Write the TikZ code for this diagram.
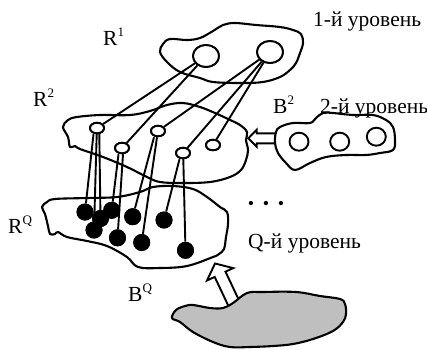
\documentclass[tikz,border=0pt]{standalone}
\usepackage{fontspec}
\setmainfont{Liberation Serif}
\usetikzlibrary{shapes.geometric}
\definecolor{landgray}{gray}{0.75}
\newcommand\lvlsup[1]{\raisebox{9pt}{\fontsize{13}{13}\selectfont #1}}
\begin{document}
\begin{tikzpicture}[x=1pt,y=-1pt,
  blob/.style={line width=2.1pt, line join=round},
  link/.style={line width=1.9pt},
  ring/.style={ellipse, draw, line width=1.9pt, fill=white, inner sep=0pt},
  bigring/.style={ring, minimum width=26pt, minimum height=22pt},
  smallring/.style={ring, minimum width=14pt, minimum height=10.5pt},
  midring/.style={ring, minimum width=19pt, minimum height=18pt},
  dot/.style={circle, fill=black, inner sep=0pt, minimum size=17pt},
  lbl/.style={font=\fontsize{21.5}{25}\selectfont, inner sep=0pt, anchor=base west},
  hollow/.style={draw, line width=1.9pt, fill=white, line join=miter}]
\useasboundingbox (0,0) rectangle (427,349);

% level 1 region
\draw[blob] plot[smooth cycle, tension=0.6] coordinates {
  (160,52) (163,44) (170,39) (187,40) (200,38) (213,31) (223,25) (235,23)
  (256,25) (280,27) (293,30) (301,34) (303,43) (300,53) (296,63) (290,70)
  (280,77) (263,82) (240,83) (213,82) (200,78) (180,72) (167,62)};

% level 2 region
\draw[blob] plot[smooth cycle, tension=0.6] coordinates {
  (63,127) (68,120) (77,117) (100,115) (130,115) (150,111) (167,105) (183,103)
  (200,107) (215,113) (228,119) (240,125) (247,132) (246,140) (248,150)
  (246,160) (241,170) (230,177) (210,182) (183,183) (160,182) (147,177)
  (127,167) (103,157) (80,149) (75,146) (70,147) (68,137)};

% level Q region
\draw[blob] plot[smooth cycle, tension=0.6] coordinates {
  (42,207) (47,202) (55,199) (87,198) (117,197) (140,192) (153,187) (173,186)
  (193,189) (207,197) (220,207) (227,212) (228,224) (226,237) (224,249)
  (219,254) (213,257) (187,266) (160,268) (138,267) (127,257) (107,246)
  (87,241) (67,237) (58,232) (55,234) (50,234) (48,226) (45,214)};

% units of level 1
\node[bigring] (a1) at (206,56) {};
\node[bigring] (a2) at (270,52) {};

% units of level 2
\node[smallring] (c1) at (97,128) {};
\node[smallring] (c2) at (122,148) {};
\node[smallring] (c3) at (158,131) {};
\node[smallring] (c4) at (183,153) {};
\node[smallring] (c5) at (213,145) {};

% units of level Q
\node[dot] (d1) at (85,212) {};
\node[dot] (d2) at (100.5,218.5) {};
\node[dot] (d3) at (111.7,210.3) {};
\node[dot] (d4) at (94,230) {};
\node[dot] (d5) at (132.7,216.7) {};
\node[dot] (d6) at (117.5,237.8) {};
\node[dot] (d7) at (164,220) {};
\node[dot] (d8) at (141.7,242.5) {};
\node[dot] (d9) at (185.5,250.3) {};

% links between levels
\draw[link] (a1) -- (c1);
\draw[link] (a1) -- (c2);
\draw[link] (a2) -- (c3);
\draw[link] (a2) -- (c4);
\draw[link] (a2) -- (c5);
\draw[link] ([xshift=-3.5pt]c1.south) -- (d1);
\draw[link] ([xshift=-0.3pt]c1.south) -- (d4);
\draw[link] ([xshift=2.3pt]c1.south) -- (d2);
\draw[link] ([xshift=-3.5pt]c2.south) -- (d3);
\draw[link] ([xshift=1pt]c2.south) -- (d6);
\draw[link] ([xshift=-4pt]c3.south) -- (d5);
\draw[link] ([xshift=-1pt]c3.south) -- (d8);
\draw[link] ([xshift=-3.5pt]c4.south) -- (d7);
\draw[link] ([xshift=0.3pt]c4.south) -- (d9);

% redraw the units above the links
\node[bigring] at (a1) {};
\node[bigring] at (a2) {};
\foreach \c in {c1,c2,c3,c4,c5} \node[smallring] at (\c) {};
\foreach \d in {d1,d2,d3,d4,d5,d6,d7,d8,d9} \node[dot] at (\d) {};

% input arrow into level 2
\draw[hollow] (248.3,138.3) -- (256.7,129.8) -- (256.7,133.3) -- (280,133.3)
  -- (280,143.3) -- (256.7,143.3) -- (256.7,146.8) -- cycle;

% B2 region
\draw[blob, fill=white] plot[smooth cycle, tension=0.6] coordinates {
  (276,132) (280,127) (293,123) (310,123) (316,118) (323,113) (333,113)
  (353,115) (373,115) (386,120) (393,127) (395,140) (393,150) (380,153)
  (366,155) (346,155) (326,157) (310,163) (295,170) (286,163) (278,153)
  (275,143)};
\node[midring] (b1) at (299,141.7) {};
\node[midring] (b2) at (339.7,141.7) {};
\node[midring] (b3) at (376.3,136.7) {};

% input arrow into level Q
\draw[hollow] (215,263.5) -- (233.2,268.1) -- (225.5,271.7) -- (242.6,307.9)
  -- (231.8,313.1) -- (214.7,276.9) -- (207,280.5) -- cycle;

% BQ region
\draw[blob, fill=landgray] plot[smooth cycle, tension=0.6] coordinates {
  (172,318) (176,310) (185,306) (193,305) (210,308) (223,308) (233,303)
  (247,293) (263,292) (296,292) (320,296) (340,299) (345,304) (346,314)
  (343,322) (333,331) (313,339) (293,344) (273,346) (250,347) (230,347)
  (213,342) (193,332) (180,322)};

% labels
\node[lbl] (t1) at (313,26.7) {1-й уровень};
\node[lbl] (t2) at (320,113.3) {2-й уровень};
\node[lbl] (tq) at (248,248) {Q-й уровень};
\node[lbl] (lr1) at (103,45) {R\lvlsup{1}};
\node[lbl] (lr2) at (33,106.7) {R\lvlsup{2}};
\node[lbl] (lrq) at (8,233) {R\lvlsup{Q}};
\node[lbl] (lb2) at (273,113.3) {B\lvlsup{2}};
\node[lbl] (lbq) at (128,301.7) {B\lvlsup{Q}};
\node[inner sep=0pt, font=\fontsize{18}{18}\selectfont] (ell) at (266,205.7)
  {•\hspace{8.7pt}•\hspace{8.7pt}•};
\end{tikzpicture}
\end{document}
